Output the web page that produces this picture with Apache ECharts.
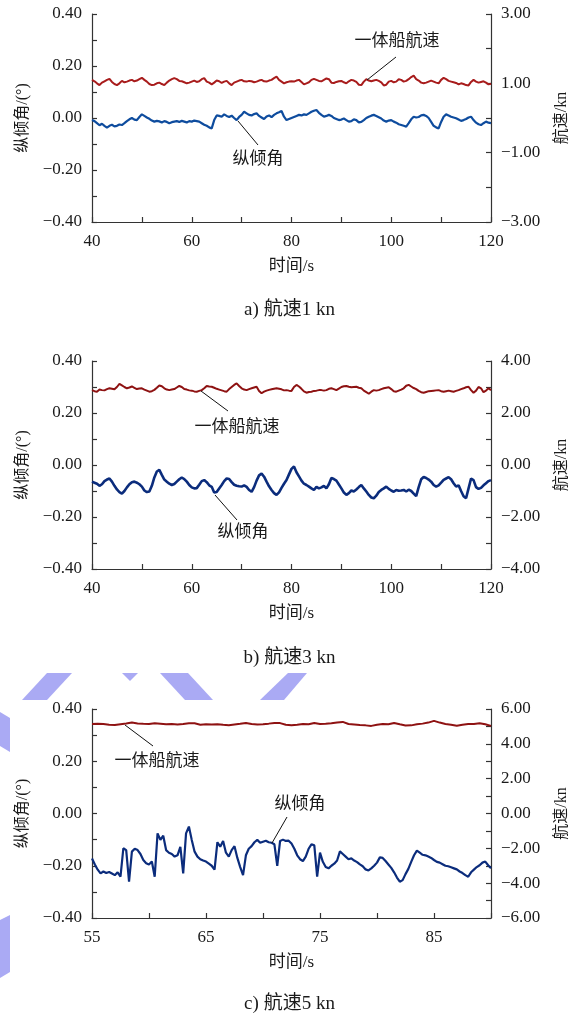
<!DOCTYPE html>
<html>
<head>
<meta charset="utf-8">
<script src="https://cdn.jsdelivr.net/npm/echarts@6/dist/echarts.min.js"></script>
<style>
html, body { margin: 0; padding: 0; background: #fff; }
#chart { width: 579px; height: 1019px; }
</style>
</head>
<body>
<div id="chart"></div>
<script>
// a) 航速1 kn, 40-120 s, 0.5 s step
const rangeA = [40, 120]
const speedA = [
  1.10, 1.06, 1.00, 0.95, 1.02, 1.06, 1.10, 1.13, 1.04, 0.98, 0.95, 1.00, 1.07, 1.03, 1.05, 1.08, 1.10, 1.06, 1.08, 1.12,
  1.16, 1.10, 1.05, 0.98, 0.95, 0.96, 1.00, 1.02, 0.98, 0.95, 1.02, 1.08, 1.12, 1.15, 1.12, 1.07, 1.06, 1.03, 1.00, 1.02,
  1.05, 1.08, 1.04, 1.06, 1.12, 1.15, 1.05, 1.02, 0.97, 1.02, 1.08, 1.06, 1.01, 1.05, 1.07, 1.00, 0.95, 1.02, 1.05, 1.08,
  1.10, 1.06, 1.05, 1.07, 1.06, 1.03, 1.05, 1.08, 1.10, 1.06, 1.05, 1.08, 1.10, 1.15, 1.19, 1.10, 1.05, 1.00, 1.03, 1.05,
  1.06, 1.05, 1.08, 1.10, 1.04, 0.97, 1.00, 1.03, 1.10, 1.13, 1.10, 1.07, 1.06, 1.10, 1.14, 1.12, 1.02, 1.01, 1.04, 1.06,
  1.07, 1.03, 1.00, 1.06, 1.10, 1.08, 1.04, 0.96, 0.95, 1.05, 1.12, 1.08, 1.06, 1.08, 1.10, 1.07, 1.03, 0.94, 0.96, 1.05,
  1.07, 1.03, 1.05, 1.12, 1.10, 1.05, 1.07, 1.12, 1.18, 1.22, 1.12, 1.08, 1.02, 1.00, 1.02, 1.05, 1.08, 1.05, 1.02, 1.00,
  1.10, 1.16, 1.12, 1.07, 1.05, 1.03, 1.01, 0.97, 1.00, 0.98, 0.95, 0.94, 1.04, 1.10, 1.05, 1.02, 1.04, 1.06, 1.02, 0.97,
  0.99
]
const pitchA = [
  -0.008, -0.012, -0.020, -0.028, -0.022, -0.030, -0.037, -0.030, -0.026, -0.032, -0.030, -0.025, -0.027, -0.020, -0.012, -0.005, 0.000, -0.006, -0.008, 0.004,
  0.014, 0.008, 0.002, -0.003, -0.010, -0.014, -0.011, -0.013, -0.017, -0.012, -0.015, -0.020, -0.016, -0.014, -0.012, -0.015, -0.011, -0.014, -0.017, -0.012,
  -0.014, -0.010, -0.012, -0.014, -0.020, -0.026, -0.030, -0.036, -0.040, -0.008, 0.010, 0.008, 0.005, 0.014, 0.008, 0.004, 0.009, 0.000, -0.008, 0.004,
  0.012, 0.024, 0.018, 0.012, 0.010, 0.015, 0.018, 0.008, 0.002, -0.004, 0.006, 0.010, 0.003, 0.012, 0.018, 0.022, 0.027, 0.005, -0.008, -0.004,
  0.000, 0.004, 0.008, 0.012, 0.010, 0.014, 0.012, 0.018, 0.024, 0.028, 0.031, 0.020, 0.012, 0.005, 0.008, 0.012, 0.008, 0.000, -0.004, -0.008,
  -0.006, -0.002, -0.008, -0.014, -0.012, -0.005, -0.008, -0.017, -0.015, -0.008, 0.000, 0.005, 0.009, 0.012, 0.008, 0.003, -0.002, -0.010, -0.014, -0.010,
  -0.008, -0.014, -0.018, -0.024, -0.027, -0.030, -0.033, -0.020, -0.005, 0.005, 0.002, 0.004, 0.010, 0.012, 0.008, 0.000, -0.015, -0.030, -0.036, -0.040,
  -0.015, 0.005, 0.014, 0.010, 0.005, 0.002, -0.001, -0.006, -0.011, -0.008, -0.004, 0.002, 0.005, -0.008, -0.018, -0.024, -0.027, -0.020, -0.014, -0.018,
  -0.020
]

// b) 航速3 kn, 40-120 s, 0.5 s step
const rangeB = [40, 120]
const speedB = [
  2.88, 2.84, 2.82, 2.90, 2.88, 2.87, 2.92, 2.95, 2.93, 2.91, 3.00, 3.12, 3.06, 3.00, 2.95, 2.98, 3.02, 2.97, 2.92, 2.94,
  2.95, 2.90, 2.86, 2.82, 2.84, 2.89, 2.97, 3.06, 3.03, 2.95, 2.90, 2.88, 2.90, 2.92, 2.98, 3.04, 3.00, 2.92, 2.90, 2.87,
  2.86, 2.83, 2.82, 2.85, 2.88, 2.95, 3.04, 3.02, 3.01, 2.97, 2.93, 2.90, 2.87, 2.84, 2.82, 2.92, 3.00, 3.08, 3.14, 3.04,
  2.95, 2.90, 2.88, 2.92, 2.95, 2.98, 3.01, 2.85, 2.76, 2.82, 2.86, 2.89, 2.91, 2.93, 2.95, 2.93, 2.91, 2.87, 2.88, 2.86,
  2.85, 3.00, 3.08, 3.02, 2.93, 2.83, 2.78, 2.81, 2.82, 2.85, 2.86, 2.88, 2.88, 2.86, 2.88, 2.93, 2.95, 2.92, 2.88, 2.94,
  3.00, 3.03, 3.04, 3.01, 2.99, 3.00, 3.01, 2.97, 2.95, 2.86, 2.80, 2.74, 2.82, 2.88, 2.86, 2.88, 2.92, 2.95, 2.97, 2.99,
  2.92, 2.84, 2.82, 2.86, 2.90, 2.95, 3.05, 3.08, 3.02, 2.96, 2.92, 2.85, 2.80, 2.78, 2.81, 2.84, 2.85, 2.86, 2.87, 2.88,
  2.84, 2.82, 2.84, 2.86, 2.84, 2.82, 2.85, 2.88, 2.92, 2.95, 2.99, 3.01, 2.88, 2.78, 2.86, 3.00, 2.95, 2.80, 2.86, 2.95,
  2.88
]
const pitchB = [
  -0.064, -0.068, -0.072, -0.080, -0.074, -0.062, -0.056, -0.052, -0.064, -0.080, -0.094, -0.104, -0.110, -0.100, -0.086, -0.074, -0.066, -0.064, -0.068, -0.074,
  -0.083, -0.098, -0.104, -0.102, -0.080, -0.048, -0.025, -0.019, -0.038, -0.056, -0.064, -0.072, -0.077, -0.073, -0.064, -0.055, -0.048, -0.054, -0.064, -0.077,
  -0.086, -0.090, -0.089, -0.076, -0.062, -0.058, -0.066, -0.078, -0.084, -0.106, -0.104, -0.090, -0.077, -0.062, -0.052, -0.054, -0.066, -0.076, -0.080, -0.082,
  -0.083, -0.078, -0.084, -0.096, -0.103, -0.085, -0.060, -0.040, -0.033, -0.045, -0.064, -0.082, -0.096, -0.108, -0.115, -0.105, -0.088, -0.072, -0.058, -0.036,
  -0.015, -0.006, -0.028, -0.044, -0.060, -0.072, -0.077, -0.083, -0.090, -0.096, -0.084, -0.090, -0.086, -0.080, -0.090, -0.074, -0.050, -0.054, -0.060, -0.075,
  -0.090, -0.106, -0.115, -0.108, -0.098, -0.102, -0.094, -0.085, -0.077, -0.090, -0.102, -0.115, -0.125, -0.128, -0.118, -0.104, -0.096, -0.090, -0.083, -0.092,
  -0.098, -0.103, -0.096, -0.099, -0.098, -0.096, -0.102, -0.095, -0.100, -0.110, -0.120, -0.085, -0.055, -0.046, -0.050, -0.056, -0.064, -0.077, -0.083, -0.078,
  -0.068, -0.057, -0.052, -0.047, -0.055, -0.070, -0.083, -0.078, -0.100, -0.120, -0.128, -0.090, -0.052, -0.058, -0.085, -0.092, -0.088, -0.078, -0.070, -0.062,
  -0.058
]

// c) 航速5 kn, 55-90 s; speed every 0.5 s, pitch every 0.25 s
const rangeC = [55, 90]
const speedC = [
  5.14, 5.16, 5.14, 5.10, 5.08, 5.13, 5.17, 5.22, 5.17, 5.15,
  5.14, 5.18, 5.15, 5.12, 5.14, 5.11, 5.14, 5.18, 5.18, 5.10,
  5.13, 5.11, 5.13, 5.09, 5.07, 5.11, 5.15, 5.20, 5.14, 5.11,
  5.13, 5.16, 5.20, 5.19, 5.10, 5.07, 5.10, 5.14, 5.12, 5.20,
  5.14, 5.15, 5.18, 5.22, 5.26, 5.14, 5.11, 5.08, 5.06, 5.03,
  5.10, 5.14, 5.12, 5.20, 5.12, 5.05, 5.06, 5.12, 5.16, 5.22,
  5.32, 5.22, 5.14, 5.10, 5.04, 5.10, 5.14, 5.14, 5.18, 5.12,
  5.03
]
const pitchC = [
  -0.172, -0.195, -0.215, -0.229, -0.222, -0.228, -0.224, -0.230,
  -0.236, -0.225, -0.242, -0.133, -0.140, -0.261, -0.146, -0.135,
  -0.140, -0.155, -0.178, -0.190, -0.195, -0.184, -0.242, -0.076,
  -0.101, -0.085, -0.140, -0.150, -0.155, -0.165, -0.160, -0.128,
  -0.229, -0.076, -0.050, -0.101, -0.146, -0.165, -0.175, -0.180,
  -0.184, -0.192, -0.200, -0.215, -0.110, -0.127, -0.105, -0.150,
  -0.165, -0.140, -0.125, -0.170, -0.205, -0.236, -0.160, -0.135,
  -0.125, -0.110, -0.101, -0.112, -0.108, -0.104, -0.110, -0.112,
  -0.118, -0.200, -0.105, -0.100, -0.105, -0.104, -0.115, -0.135,
  -0.160, -0.175, -0.182, -0.165, -0.135, -0.118, -0.122, -0.242,
  -0.150, -0.185, -0.205, -0.210, -0.200, -0.192, -0.180, -0.145,
  -0.155, -0.165, -0.175, -0.172, -0.180, -0.186, -0.195, -0.202,
  -0.214, -0.218, -0.210, -0.200, -0.188, -0.168, -0.170, -0.182,
  -0.195, -0.208, -0.225, -0.245, -0.261, -0.255, -0.232, -0.212,
  -0.185, -0.160, -0.142, -0.150, -0.158, -0.160, -0.165, -0.170,
  -0.178, -0.185, -0.188, -0.194, -0.200, -0.202, -0.206, -0.210,
  -0.214, -0.222, -0.228, -0.236, -0.242, -0.225, -0.215, -0.205,
  -0.198, -0.188, -0.184, -0.198,
  -0.210
]

const captions = ['a) 航速1 kn', 'b) 航速3 kn', 'c) 航速5 kn']
const FONT = "'Liberation Serif', 'Noto Sans CJK SC', serif"
const AXIS_COLOR = '#333'

// spread samples evenly over the time range
function toPairs(range, values) {
  const step = (range[1] - range[0]) / (values.length - 1)
  return values.map((v, i) => [range[0] + i * step, v])
}

function fmt(v) {
  const r = Math.round(v * 100) / 100
  return (r === 0 ? 0 : r).toFixed(2).replace('-', '\u2212')
}

const grids = [
  { left: 92, width: 399, top: 14, height: 208 },
  { left: 92, width: 399, top: 361, height: 208 },
  { left: 92, width: 399, top: 709, height: 209 }
]

const axisLine = { show: true, onZero: false, lineStyle: { color: AXIS_COLOR, width: 1.2 } }
const axisTick = { show: true, inside: true, length: 5, lineStyle: { color: AXIS_COLOR, width: 1.2 } }
const labelStyle = { color: '#1a1a1a', fontSize: 17, fontFamily: FONT }
const nameStyle = { color: '#1a1a1a', fontSize: 17, fontFamily: FONT }

function xAxis(gridIndex, min, max, interval, labelEvery) {
  return {
    type: 'value', gridIndex, min, max, interval,
    name: '时间/s', nameLocation: 'middle', nameGap: 36, nameTextStyle: nameStyle,
    axisLine, axisTick, splitLine: { show: false },
    axisLabel: {
      ...labelStyle, margin: 11,
      formatter: v => (Math.round(v - min) % labelEvery === 0 ? String(v) : '')
    }
  }
}

function pitchAxis(gridIndex) {
  return {
    type: 'value', gridIndex, position: 'left', min: -0.4, max: 0.4, interval: 0.1,
    name: '纵倾角/(°)', nameLocation: 'middle', nameGap: 61, nameRotate: 90,
    nameTextStyle: { ...nameStyle, fontSize: 16 },
    axisLine, axisTick, splitLine: { show: false },
    axisLabel: { ...labelStyle, margin: 10, formatter: v => (Math.round(v * 10) % 2 === 0 ? fmt(v) : '') }
  }
}

function speedAxis(gridIndex, lim, oddLabels) {
  return {
    type: 'value', gridIndex, position: 'right', min: -lim, max: lim, interval: 1,
    name: '航速/kn', nameLocation: 'middle', nameGap: 63, nameRotate: 90,
    nameTextStyle: { ...nameStyle, fontSize: 16 },
    axisLine, axisTick, splitLine: { show: false },
    axisLabel: {
      ...labelStyle, margin: 10,
      formatter: v => ((Math.abs(Math.round(v)) % 2 === 1) === oddLabels ? fmt(v) : '')
    }
  }
}

function line(xi, yi, data, color, width) {
  return {
    type: 'line', xAxisIndex: xi, yAxisIndex: yi, data, showSymbol: false, symbol: 'none',
    lineStyle: { color, width }, silent: true
  }
}

function label(text, x, y) {
  return {
    type: 'text', z: 10,
    style: { text, x, y, font: '17px ' + FONT, fill: '#1a1a1a', align: 'center', verticalAlign: 'middle', textAlign: 'center', textVerticalAlign: 'middle' }
  }
}

function leader(x1, y1, x2, y2) {
  return { type: 'line', z: 10, shape: { x1, y1, x2, y2 }, style: { stroke: '#111', lineWidth: 1 } }
}

function patch(points) {
  return { type: 'polygon', z: -1, shape: { points }, style: { fill: '#aaaaf4' } }
}

const myChart = echarts.init(document.getElementById('chart'), null, { renderer: 'canvas' })

myChart.setOption({
  animation: false,
  backgroundColor: '#fff',
  title: captions.map((text, i) => ({
    text, left: 'center', top: [301, 649, 995][i], padding: 0,
    textStyle: { fontSize: 19, fontWeight: 'normal', color: '#1a1a1a', fontFamily: FONT }
  })),
  grid: grids,
  xAxis: [
    xAxis(0, 40, 120, 10, 20),
    xAxis(1, 40, 120, 10, 20),
    xAxis(2, 55, 90, 5, 10)
  ],
  yAxis: [
    pitchAxis(0), speedAxis(0, 3, true),
    pitchAxis(1), speedAxis(1, 4, false),
    pitchAxis(2), speedAxis(2, 6, false)
  ],
  series: [
    line(0, 1, toPairs(rangeA, speedA), '#a81c1c', 2),
    line(0, 0, toPairs(rangeA, pitchA), '#0e4c9e', 2.2),
    line(1, 3, toPairs(rangeB, speedB), '#8e1212', 2),
    line(1, 2, toPairs(rangeB, pitchB), '#0b2c7c', 2.6),
    line(2, 5, toPairs(rangeC, speedC), '#8e1212', 2),
    line(2, 4, toPairs(rangeC, pitchC), '#0b2c7c', 2.2)
  ],
  graphic: [
    // watermark remnants
    patch([[22, 700], [47, 700], [72, 673], [47, 673]]),
    patch([[122, 673], [138, 673], [130, 681]]),
    patch([[160, 673], [188, 673], [213, 700], [185, 700]]),
    patch([[260, 700], [284, 700], [307, 673], [288, 673]]),
    patch([[0, 712], [10, 718], [10, 752], [0, 746]]),
    patch([[0, 920], [10, 915], [10, 972], [0, 978]]),
    // annotations
    label('一体船航速', 397, 42), leader(396, 57, 367, 80),
    label('纵倾角', 258, 160), leader(238, 121, 258, 145),
    label('一体船航速', 237, 428), leader(201, 391, 228, 411),
    label('纵倾角', 243, 533), leader(215, 495, 237, 520),
    label('一体船航速', 157, 762), leader(125, 725, 153, 746),
    label('纵倾角', 300, 805), leader(287, 817, 272, 843)
  ]
})
</script>
</body>
</html>
